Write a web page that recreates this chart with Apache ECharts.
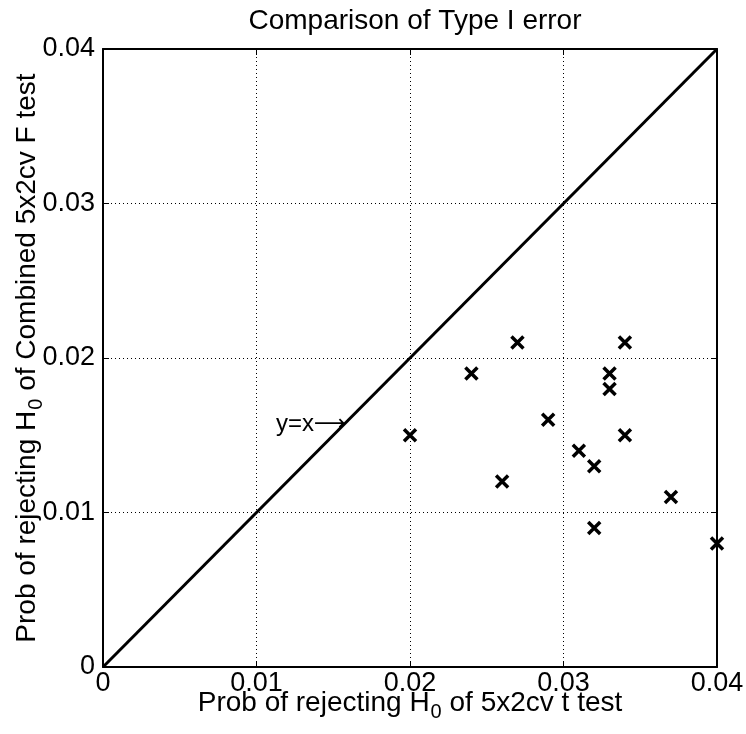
<!DOCTYPE html>
<html><head><meta charset="utf-8">
<script src="https://cdn.jsdelivr.net/npm/echarts@6/dist/echarts.min.js"></script>
<style>html,body{margin:0;padding:0;background:#fff}#c{width:746px;height:734px}</style>
</head><body><div id="c"></div>
<script>
var tTestRates = [0.020, 0.024, 0.026, 0.027, 0.029, 0.031, 0.032, 0.032, 0.033, 0.033, 0.034, 0.034, 0.037, 0.040];
var fTestRates = [0.015, 0.019, 0.012, 0.021, 0.016, 0.014, 0.013, 0.009, 0.019, 0.018, 0.021, 0.015, 0.011, 0.008];
var diagonal = [[0, 0], [0.04, 0.04]];
var annotationPoint = [[0.0158, 0.0158]];
var tickLabels = ['0', '0.01', '0.02', '0.03', '0.04'];

var FONT = "'Liberation Sans', Arial, sans-serif";
var points = tTestRates.map(function (x, i) { return [x, fTestRates[i]]; });
function fmt(v) { var i = Math.round(v / 0.01); return tickLabels[i] !== undefined ? tickLabels[i] : ''; }

var baseAxis = {
  min: 0, max: 0.04, interval: 0.01,
  axisLine: { show: true, onZero: false, lineStyle: { color: '#000', width: 2 } },
  axisTick: { show: true, inside: true, length: 6, lineStyle: { color: '#000', width: 1 } },
  splitLine: { show: false }
};
function mk(extra) { return Object.assign({}, JSON.parse(JSON.stringify(baseAxis)), extra); }
var nameRich = {
  a: { fontFamily: FONT, fontSize: 28, color: '#000' },
  s: { fontFamily: FONT, fontSize: 20, color: '#000', padding: [18, 0, 0, 1] }
};

var chart = echarts.init(document.getElementById('c'));
chart.setOption({
  animation: false,
  backgroundColor: '#fff',
  title: {
    text: 'Comparison of Type I error', left: 410, top: 2, textAlign: 'center',
    textStyle: { fontFamily: FONT, fontSize: 28, fontWeight: 'normal', color: '#000' }
  },
  grid: { left: 103, right: 29, top: 49, bottom: 67, containLabel: false, outerBoundsMode: 'none' },
  xAxis: [
    mk({
      type: 'value', position: 'bottom',
      axisLabel: { show: true, margin: 3, color: '#000', fontFamily: FONT, fontSize: 27, formatter: fmt },
      splitLine: { show: true, lineStyle: { color: '#000', type: [1, 3], width: 1 } },
      name: '{a|Prob of rejecting H}{s|0}{a| of 5x2cv t test}',
      nameLocation: 'middle', nameGap: 17, nameMoveOverlap: false,
      nameTextStyle: { rich: nameRich }
    }),
    mk({ type: 'value', position: 'top', axisLabel: { show: false } })
  ],
  yAxis: [
    mk({
      type: 'value', position: 'left',
      axisLabel: { show: true, margin: 8, color: '#000', fontFamily: FONT, fontSize: 27, formatter: fmt },
      splitLine: { show: true, lineStyle: { color: '#000', type: [1, 3], width: 1 } },
      name: '{a|Prob of rejecting H}{s|0}{a| of Combined 5x2cv F test}',
      nameLocation: 'middle', nameGap: 57, nameRotate: 90, nameMoveOverlap: false,
      nameTextStyle: { rich: nameRich }
    }),
    mk({ type: 'value', position: 'right', axisLabel: { show: false } })
  ],
  series: [
    {
      type: 'line', data: diagonal, symbol: 'none', silent: true,
      lineStyle: { color: '#000', width: 3 }, z: 3
    },
    {
      type: 'scatter', data: points,
      symbol: 'path://M0,0L10,10M10,0L0,10', symbolSize: 12,
      itemStyle: { color: 'none', borderColor: '#000', borderWidth: 3.5, opacity: 1 }, z: 4
    },
    {
      type: 'scatter', data: annotationPoint, symbolSize: 0, silent: true,
      itemStyle: { opacity: 1 },
      label: { show: true, position: 'left', distance: 0, formatter: '{a|y=x}{b|\u27F6}', offset: [0, 1],
        rich: {
          a: { fontFamily: FONT, fontSize: 24, color: '#000' },
          b: { fontFamily: "'DejaVu Sans', sans-serif", fontSize: 22, color: '#000' }
        } }
    }
  ]
});
</script></body></html>
